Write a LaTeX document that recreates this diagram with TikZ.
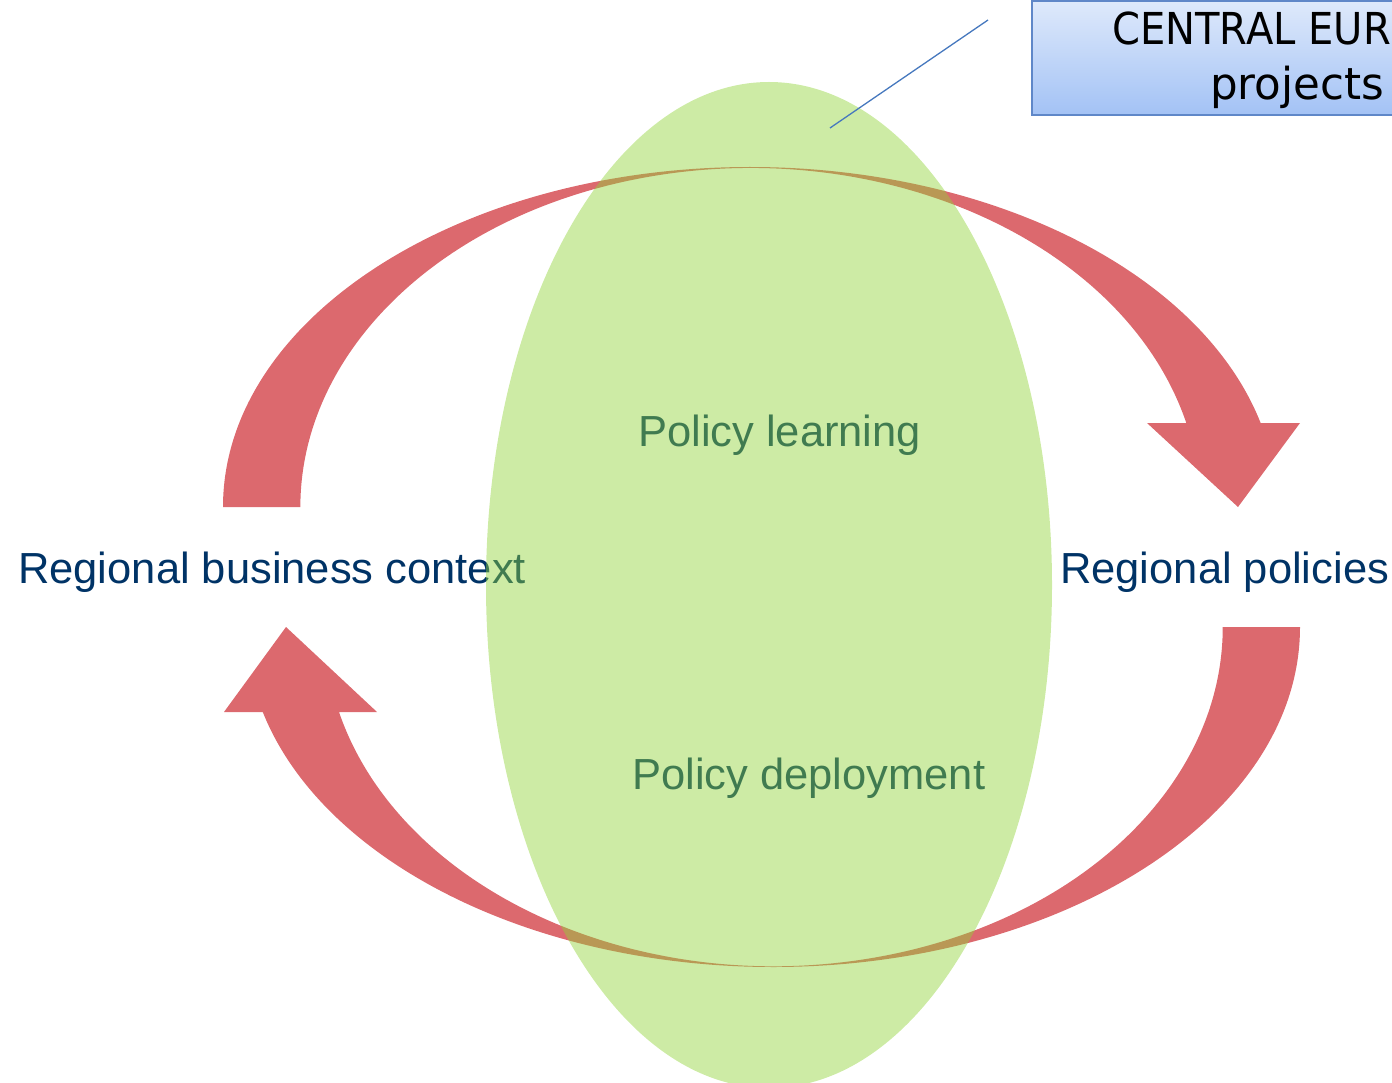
\documentclass[tikz,border=0pt]{standalone}
\usepackage{fontspec}
\setmainfont{Liberation Sans}
\newfontfamily\boxfont{DejaVu Sans}
\definecolor{arrowred}{RGB}{220,105,110}
\definecolor{ellgreen}{RGB}{144,211,55}
\definecolor{navy}{RGB}{0,51,102}
\definecolor{boxtop}{RGB}{222,233,251}
\definecolor{boxbot}{RGB}{163,194,245}
\definecolor{boxline}{RGB}{95,135,200}
\definecolor{callout}{RGB}{70,120,190}
\tikzset{
  arrowfill/.style={fill=arrowred},
  lensfill/.style={fill=ellgreen, fill opacity=0.45},
  bigtext/.style={anchor=base west, inner sep=0pt, text=navy,
    font=\fontsize{43.5}{52}\selectfont},
  boxtext/.style={anchor=base west, inner sep=0pt, text=black,
    font=\boxfont\fontsize{44}{52}\selectfont},
}
\begin{document}
\begin{tikzpicture}[x=1pt,y=1pt]
\useasboundingbox (0,0) rectangle (1392,-1083);
\clip (0,0) rectangle (1392,-1083);

% red curved arrows
\fill[arrowfill] (223,-507)
  arc[start angle=180,end angle=14.3,x radius=527pt,y radius=340pt]
  -- (1300,-423) -- (1238,-507) -- (1147,-423) -- (1186.3,-423)
  arc[start angle=14.35,end angle=180,x radius=450pt,y radius=339pt] -- cycle;
\fill[arrowfill] (1300,-627)
  arc[start angle=0,end angle=-165.52,x radius=527pt,y radius=340pt]
  -- (224,-712) -- (286,-627) -- (377,-712) -- (339,-712)
  arc[start angle=-165.52,end angle=0,x radius=449pt,y radius=339pt] -- cycle;

% texts
\node[bigtext] (ctx) at (18,-583) {Regional business context};
\node[bigtext] (pol) at (1060,-583) {Regional policies};
\node[bigtext] (learn) at (638,-446) {Policy learning};
\node[bigtext] (deploy) at (632,-789) {Policy deployment};

% green lens
\path[lensfill] (769,-585) ellipse [x radius=283pt, y radius=503pt];

% callout box
\path[draw=boxline, line width=1.5pt, top color=boxtop, bottom color=boxbot]
  (1032,-1) rectangle (1480,-115);
\node[boxtext] (cen) at (1112,-45) {\scalebox{0.91}[1]{CENTRAL EUR}};
\node[boxtext] (proj) at (1210,-100) {\scalebox{0.99}[1]{projects}};

% callout line
\coordinate (la) at (988,-20);
\coordinate (lb) at (830,-128);
\draw[callout, line width=1.3pt] (la) -- (lb);
\end{tikzpicture}
\end{document}
